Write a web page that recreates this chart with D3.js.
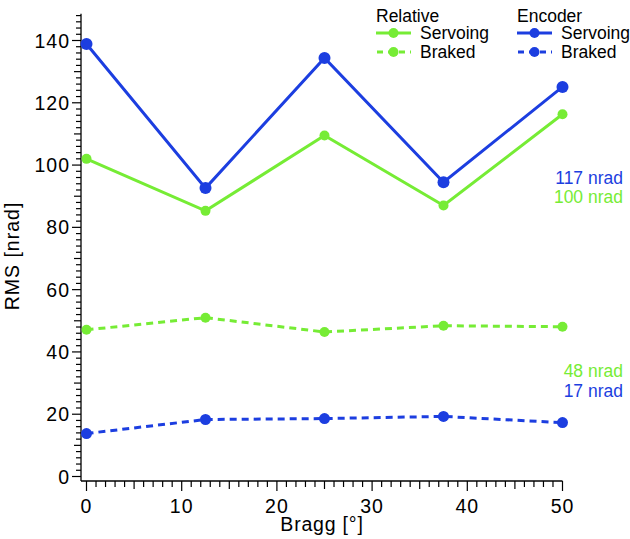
<!DOCTYPE html>
<html><head><meta charset="utf-8">
<script src="https://cdn.jsdelivr.net/npm/d3@7"></script>
<style>body{margin:0;background:#fff}svg{display:block}text{font-family:"Liberation Sans",Arial,Helvetica,sans-serif}</style>
</head><body><svg id="c" width="630" height="539"></svg>
<script>
const bragg = [0, 12.5, 25, 37.5, 50];
const encoderServoing = [138.9, 92.6, 134.4, 94.5, 125.1];
const relativeServoing = [102.0, 85.3, 109.5, 87.0, 116.3];
const relativeBraked = [47.1, 51.0, 46.4, 48.4, 48.1];
const encoderBraked = [13.8, 18.3, 18.6, 19.3, 17.3];
const xTicks = [0, 10, 20, 30, 40, 50];
const yTicks = [0, 20, 40, 60, 80, 100, 120, 140];
const annotations = [
  {text: "117 nrad", value: 117, group: "enc", row: 0},
  {text: "100 nrad", value: 100, group: "rel", row: 1},
  {text: "48 nrad", value: 48, group: "rel", row: 2},
  {text: "17 nrad", value: 17, group: "enc", row: 3}
];

const GREEN = "#76ec35", BLUE = "#1c3ee0";
const svg = d3.select("#c");
const x = d3.scaleLinear().domain([0, 50]).range([86.5, 562.5]);
const y = d3.scaleLinear().domain([0, 140]).range([476.5, 40.5]);
const axX = 81, axY = 481;

// Y axis
const gy = svg.append("g");
gy.append("line").attr("x1", axX).attr("x2", axX).attr("y1", axY).attr("y2", y(148.6)).attr("stroke", "#000").attr("stroke-width", 1.3);
d3.range(0, 149, 2).forEach(v => {
  const len = v % 20 === 0 ? 9 : (v % 10 === 0 ? 7 : 5);
  gy.append("line").attr("x1", axX - len).attr("x2", axX).attr("y1", y(v)).attr("y2", y(v)).attr("stroke", "#000").attr("stroke-width", 1.2);
});
gy.selectAll("text.yt").data(yTicks).join("text").attr("class", "yt")
  .attr("x", 70).attr("y", d => y(d)).attr("dy", "0.36em").attr("text-anchor", "end")
  .attr("font-size", 19.5).attr("letter-spacing", 1).text(d => d);

// X axis
const gx = svg.append("g");
gx.append("line").attr("x1", axX).attr("x2", x(50)).attr("y1", axY).attr("y2", axY).attr("stroke", "#000").attr("stroke-width", 1.3);
d3.range(0, 51, 1).forEach(v => {
  const len = v % 10 === 0 ? 10 : (v % 5 === 0 ? 8 : 6);
  gx.append("line").attr("x1", x(v)).attr("x2", x(v)).attr("y1", axY).attr("y2", axY + len).attr("stroke", "#000").attr("stroke-width", 1.2);
});
gx.selectAll("text.xt").data(xTicks).join("text").attr("class", "xt")
  .attr("x", d => x(d)).attr("y", 513).attr("text-anchor", "middle")
  .attr("font-size", 19.5).attr("letter-spacing", 1).text(d => d);

// Axis titles
svg.append("text").attr("x", 322).attr("y", 531).attr("text-anchor", "middle").attr("font-size", 19.5).attr("letter-spacing", 0.8).text("Bragg [°]");
svg.append("text").attr("transform", "translate(19,256) rotate(-90)").attr("text-anchor", "middle").attr("font-size", 19.5).attr("letter-spacing", 1).text("RMS [nrad]");

// Series
const series = [
  {vals: relativeBraked, color: GREEN, dash: "7,5", r: 5},
  {vals: encoderBraked, color: BLUE, dash: "7,5", r: 5.5},
  {vals: relativeServoing, color: GREEN, dash: null, r: 5},
  {vals: encoderServoing, color: BLUE, dash: null, r: 6}
];
const line = d3.line().x((d, i) => x(bragg[i])).y(d => y(d));
series.forEach(s => {
  svg.append("path").datum(s.vals).attr("d", line).attr("fill", "none")
    .attr("stroke", s.color).attr("stroke-width", 3).attr("stroke-dasharray", s.dash);
  svg.selectAll(null).data(s.vals).join("circle")
    .attr("cx", (d, i) => x(bragg[i])).attr("cy", d => y(d)).attr("r", s.r).attr("fill", s.color);
});

// Annotations
const annY = [178, 197, 371, 391];
svg.selectAll("text.ann").data(annotations).join("text").attr("class", "ann")
  .attr("x", 623).attr("y", d => annY[d.row]).attr("dy", "0.35em").attr("text-anchor", "end")
  .attr("font-size", 17.5).attr("fill", d => d.group === "enc" ? BLUE : GREEN).text(d => d.text);

// Legend
const legend = [
  {title: "Relative", color: GREEN, x0: 376},
  {title: "Encoder", color: BLUE, x0: 517}
];
legend.forEach(L => {
  const g = svg.append("g");
  g.append("text").attr("x", L.x0).attr("y", 16).attr("dy", "0.35em").attr("font-size", 17.5).text(L.title);
  [{label: "Servoing", dash: null, yy: 33}, {label: "Braked", dash: "7,5", yy: 52}].forEach(r => {
    g.append("line").attr("x1", L.x0).attr("x2", L.x0 + 35).attr("y1", r.yy).attr("y2", r.yy)
      .attr("stroke", L.color).attr("stroke-width", 3).attr("stroke-dasharray", r.dash ? "6,5" : null)
      .attr("stroke-dashoffset", r.dash ? -1 : 0);
    g.append("circle").attr("cx", L.x0 + 17.5).attr("cy", r.yy).attr("r", 5).attr("fill", L.color);
    g.append("text").attr("x", L.x0 + 44).attr("y", r.yy).attr("dy", "0.35em").attr("font-size", 17.5).text(r.label);
  });
});
</script></body></html>
